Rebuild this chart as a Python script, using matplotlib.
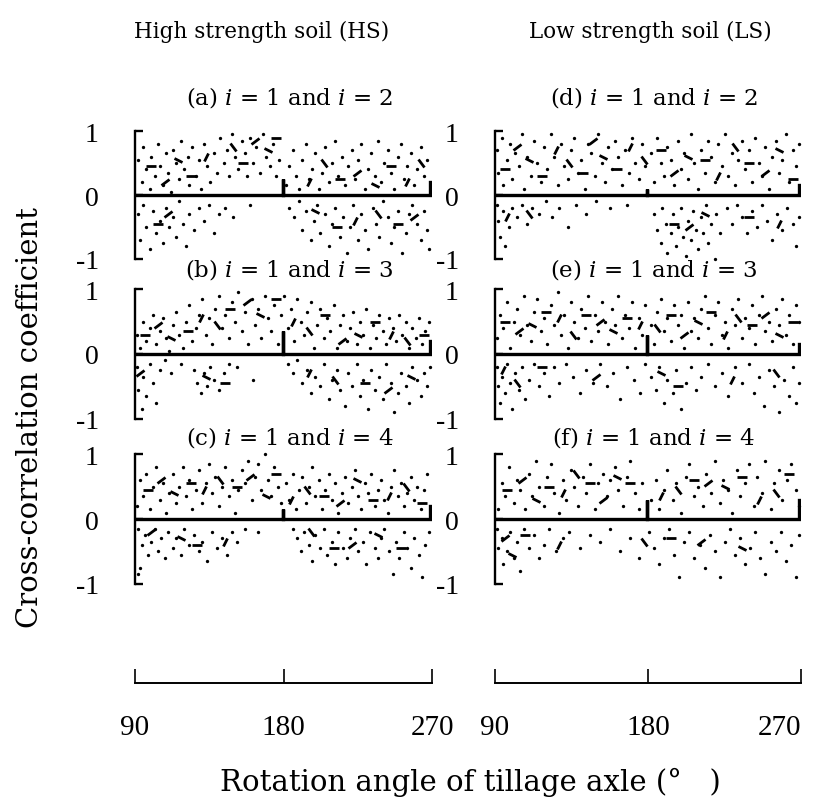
import matplotlib.pyplot as plt
from matplotlib.markers import MarkerStyle
from matplotlib.transforms import Affine2D

plt.rcParams["mathtext.fontset"] = "dejavuserif"
SERIF = "DejaVu Serif"

# Rotation angle knots for the central correlation trace
line_angles = [90, 180, 180, 180, 270, 270]

# ---- (a) HS, i=1 and i=2
a_line = [0.0, 0.0, 0.25, 0.0, 0.0, 0.2]
a_dots = [(92, 0.55), (94, 0.2), (95, 0.75), (97, 0.4), (99, 0.1), (100, 0.6), (102, 0.3), (104, 0.8),
          (105, 0.45), (107, 0.15), (109, 0.65), (110, 0.35), (112, 0.05), (113, 0.7), (115, 0.5),
          (117, 0.25), (118, 0.85), (120, 0.4), (122, 0.6), (123, 0.15), (125, 0.75), (127, 0.3),
          (129, 0.55), (130, 0.1), (132, 0.8), (134, 0.45), (136, 0.2), (138, 0.65), (140, 0.35),
          (142, 0.9), (144, 0.5), (146, 0.7), (147, 0.3), (149, 0.95), (151, 0.6), (153, 0.4),
          (155, 0.85), (157, 0.65), (158, 0.3), (160, 0.9), (162, 0.5), (164, 0.75), (166, 0.35),
          (168, 0.95), (170, 0.6), (172, 0.45), (174, 0.8), (176, 0.3), (178, 0.55), (182, 0.15),
          (184, 0.45), (186, 0.7), (188, 0.3), (190, 0.1), (192, 0.55), (194, 0.8), (196, 0.25),
          (198, 0.4), (200, 0.65), (202, 0.1), (204, 0.35), (206, 0.75), (208, 0.2), (210, 0.5),
          (212, 0.85), (214, 0.3), (216, 0.6), (218, 0.15), (220, 0.45), (222, 0.7), (224, 0.25),
          (226, 0.55), (228, 0.8), (230, 0.1), (232, 0.4), (234, 0.65), (236, 0.3), (238, 0.85),
          (240, 0.2), (242, 0.5), (244, 0.7), (246, 0.35), (248, 0.1), (250, 0.6), (252, 0.8),
          (254, 0.25), (256, 0.45), (258, 0.65), (260, 0.15), (262, 0.4), (264, 0.75), (266, 0.3),
          (268, 0.55),
          (92, -0.3), (93, -0.7), (95, -0.15), (97, -0.5), (99, -0.85), (101, -0.25), (103, -0.6),
          (105, -0.4), (107, -0.75), (109, -0.2), (111, -0.5), (113, -0.35), (115, -0.65),
          (117, -0.1), (119, -0.45), (121, -0.8), (123, -0.3), (126, -0.55), (129, -0.2),
          (132, -0.4), (135, -0.15), (138, -0.6), (141, -0.3), (145, -0.2), (150, -0.35),
          (160, -0.15), (184, -0.2), (187, -0.35), (190, -0.1), (192, -0.55), (194, -0.25),
          (197, -0.7), (199, -0.4), (201, -0.15), (203, -0.6), (206, -0.3), (208, -0.8),
          (210, -0.45), (212, -0.2), (215, -0.65), (217, -0.35), (219, -0.9), (221, -0.5),
          (223, -0.15), (226, -0.7), (228, -0.3), (230, -0.55), (232, -0.85), (235, -0.2),
          (237, -0.45), (239, -0.65), (241, -0.1), (244, -0.35), (246, -0.75), (248, -0.5),
          (250, -0.25), (253, -0.9), (255, -0.6), (257, -0.3), (259, -0.15), (262, -0.45),
          (264, -0.7), (266, -0.25), (268, -0.55), (269, -0.85)]
a_dashes = [(100, 0.45), (108, 0.2), (116, 0.55), (124, 0.3), (133, 0.6), (150, 0.75), (156, 0.5),
            (163, 0.85), (171, 0.7), (176, 0.9), (196, 0.2), (205, 0.5), (215, 0.25), (225, 0.35),
            (236, 0.15), (246, 0.45), (256, 0.2), (264, 0.5), (104, -0.45), (110, -0.3),
            (200, -0.25), (213, -0.5), (224, -0.4), (238, -0.3), (250, -0.45), (260, -0.35)]

# ---- (b) HS, i=1 and i=3
b_line = [0.0, 0.0, 0.35, 0.0, 0.0, 0.2]
b_dots = [(91, 0.3), (93, 0.1), (95, 0.5), (97, 0.2), (99, 0.4), (101, 0.6), (103, 0.15), (105, 0.35),
          (107, 0.55), (109, 0.25), (111, 0.05), (113, 0.45), (115, 0.65), (117, 0.3), (119, 0.1),
          (121, 0.5), (123, 0.75), (125, 0.2), (127, 0.4), (129, 0.6), (131, 0.85), (133, 0.3),
          (135, 0.55), (137, 0.15), (139, 0.7), (141, 0.9), (143, 0.4), (145, 0.6), (147, 0.25),
          (149, 0.8), (151, 0.5), (153, 0.95), (155, 0.35), (157, 0.65), (159, 0.15), (161, 0.85),
          (163, 0.45), (165, 0.7), (167, 0.25), (169, 0.9), (171, 0.55), (173, 0.35), (175, 0.75),
          (177, 0.15), (179, 0.6), (181, 0.9), (183, 0.4), (185, 0.7), (187, 0.2), (189, 0.85),
          (191, 0.5), (193, 0.3), (195, 0.65), (197, 0.8), (199, 0.1), (201, 0.45), (203, 0.7),
          (205, 0.25), (207, 0.55), (209, 0.35), (211, 0.75), (213, 0.1), (215, 0.45), (217, 0.6),
          (219, 0.2), (221, 0.4), (223, 0.65), (225, 0.15), (227, 0.5), (229, 0.3), (231, 0.7),
          (233, 0.1), (235, 0.45), (237, 0.25), (239, 0.6), (241, 0.35), (243, 0.15), (245, 0.55),
          (247, 0.4), (249, 0.2), (251, 0.6), (253, 0.3), (255, 0.5), (257, 0.1), (259, 0.4),
          (261, 0.25), (263, 0.55), (265, 0.15), (267, 0.35), (269, 0.5),
          (91, -0.2), (92, -0.55), (94, -0.85), (95, -0.35), (97, -0.65), (99, -0.15), (101, -0.45),
          (103, -0.75), (105, -0.25), (108, -0.1), (112, -0.3), (118, -0.15), (126, -0.25),
          (128, -0.45), (130, -0.6), (132, -0.3), (134, -0.5), (136, -0.2), (138, -0.4),
          (141, -0.55), (144, -0.3), (147, -0.15), (152, -0.2), (162, -0.4), (183, -0.15),
          (186, -0.3), (189, -0.1), (192, -0.45), (195, -0.25), (197, -0.6), (200, -0.35),
          (203, -0.5), (205, -0.15), (208, -0.7), (210, -0.4), (213, -0.25), (215, -0.55),
          (218, -0.8), (220, -0.3), (222, -0.5), (225, -0.15), (227, -0.65), (229, -0.4),
          (232, -0.85), (234, -0.25), (236, -0.55), (239, -0.35), (241, -0.7), (243, -0.15),
          (246, -0.45), (248, -0.9), (250, -0.6), (252, -0.3), (255, -0.5), (257, -0.75),
          (259, -0.2), (262, -0.4), (264, -0.65), (266, -0.3), (268, -0.5), (270, -0.2)]
b_dashes = [(96, 0.3), (104, 0.45), (112, 0.25), (122, 0.35), (130, 0.55), (140, 0.45), (148, 0.7),
            (158, 0.8), (166, 0.6), (176, 0.85), (186, 0.5), (196, 0.35), (206, 0.6), (216, 0.2),
            (226, 0.3), (236, 0.5), (246, 0.3), (256, 0.2), (266, 0.3), (93, -0.3), (133, -0.35),
            (145, -0.45), (196, -0.3), (212, -0.4), (230, -0.45), (244, -0.55), (258, -0.35)]

# ---- (c) HS, i=1 and i=4
c_line = [0.0, 0.0, 0.15, 0.0, 0.0, 0.2]
c_dots = [(91, 0.2), (93, 0.6), (95, 0.35), (97, 0.7), (99, 0.15), (101, 0.5), (103, 0.8), (105, 0.3),
          (107, 0.55), (109, 0.1), (111, 0.4), (113, 0.7), (115, 0.25), (117, 0.5), (119, 0.8),
          (121, 0.35), (123, 0.6), (125, 0.15), (127, 0.45), (129, 0.75), (131, 0.25), (133, 0.55),
          (135, 0.85), (137, 0.4), (139, 0.65), (141, 0.2), (143, 0.5), (145, 0.8), (147, 0.35),
          (149, 0.6), (151, 0.1), (153, 0.45), (155, 0.75), (157, 0.55), (159, 0.9), (161, 0.3),
          (163, 0.65), (165, 0.85), (167, 0.45), (169, 1.0), (171, 0.6), (173, 0.35), (175, 0.8),
          (177, 0.5), (179, 0.25), (182, 0.55), (184, 0.3), (186, 0.7), (188, 0.15), (190, 0.45),
          (192, 0.65), (194, 0.25), (196, 0.5), (198, 0.8), (200, 0.35), (202, 0.6), (204, 0.15),
          (206, 0.45), (208, 0.7), (210, 0.3), (212, 0.55), (214, 0.1), (216, 0.4), (218, 0.65),
          (220, 0.25), (222, 0.5), (224, 0.75), (226, 0.35), (228, 0.15), (230, 0.55), (232, 0.4),
          (234, 0.7), (236, 0.2), (238, 0.45), (240, 0.6), (242, 0.3), (244, 0.1), (246, 0.5),
          (248, 0.75), (250, 0.35), (252, 0.55), (254, 0.2), (256, 0.4), (258, 0.65), (260, 0.3),
          (262, 0.5), (264, 0.15), (266, 0.45), (268, 0.7),
          (92, -0.15), (94, -0.4), (96, -0.25), (98, -0.55), (100, -0.35), (102, -0.15), (104, -0.5),
          (106, -0.3), (108, -0.6), (110, -0.2), (113, -0.45), (115, -0.3), (118, -0.55),
          (120, -0.15), (123, -0.4), (126, -0.25), (129, -0.5), (131, -0.35), (134, -0.65),
          (137, -0.2), (140, -0.45), (143, -0.3), (146, -0.55), (149, -0.2), (152, -0.35),
          (157, -0.15), (165, -0.2), (93, -0.75), (92, -0.85), (186, -0.15), (189, -0.3),
          (191, -0.5), (193, -0.2), (196, -0.4), (198, -0.65), (200, -0.25), (203, -0.45),
          (205, -0.15), (207, -0.55), (210, -0.35), (212, -0.7), (214, -0.2), (217, -0.45),
          (219, -0.6), (221, -0.3), (224, -0.15), (226, -0.5), (229, -0.35), (231, -0.7),
          (233, -0.2), (236, -0.45), (238, -0.6), (240, -0.3), (242, -0.15), (245, -0.5),
          (247, -0.85), (249, -0.35), (251, -0.6), (254, -0.2), (256, -0.45), (258, -0.75),
          (260, -0.3), (263, -0.55), (265, -0.9), (267, -0.4), (269, -0.2)]
c_dashes = [(98, 0.45), (106, 0.6), (114, 0.4), (124, 0.55), (132, 0.45), (142, 0.6), (152, 0.5),
            (160, 0.65), (170, 0.35), (176, 0.7), (185, 0.3), (195, 0.45), (205, 0.35), (215, 0.25),
            (225, 0.6), (235, 0.3), (245, 0.35), (255, 0.5), (265, 0.25), (100, -0.2), (118, -0.3),
            (128, -0.4), (145, -0.35), (197, -0.2), (211, -0.45), (222, -0.4), (238, -0.25),
            (252, -0.45)]

# ---- (d) LS, i=1 and i=2
d_line = [0.0, 0.0, 0.1, 0.0, 0.0, 0.15]
d_dots = [(91, 0.7), (92, 0.35), (94, 0.9), (95, 0.15), (97, 0.55), (99, 0.8), (100, 0.25), (102, 0.65),
          (104, 0.45), (106, 0.95), (107, 0.1), (109, 0.6), (111, 0.3), (113, 0.85), (115, 0.5),
          (117, 0.2), (119, 0.75), (121, 0.4), (123, 0.95), (125, 0.6), (127, 0.15), (129, 0.8),
          (131, 0.45), (133, 0.25), (135, 0.7), (137, 0.9), (139, 0.35), (141, 0.55), (143, 0.1),
          (145, 0.8), (147, 0.65), (149, 0.3), (151, 0.95), (153, 0.5), (155, 0.2), (157, 0.75),
          (159, 0.4), (161, 0.85), (163, 0.6), (165, 0.15), (167, 0.7), (169, 0.35), (171, 0.9),
          (173, 0.5), (175, 0.25), (177, 0.8), (179, 0.45), (182, 0.65), (184, 0.2), (186, 0.9),
          (188, 0.5), (190, 0.3), (192, 0.75), (194, 0.55), (196, 0.15), (198, 0.85), (200, 0.4),
          (202, 0.65), (204, 0.25), (206, 0.95), (208, 0.5), (210, 0.1), (212, 0.7), (214, 0.35),
          (216, 0.85), (218, 0.6), (220, 0.2), (222, 0.8), (224, 0.45), (226, 0.95), (228, 0.3),
          (230, 0.65), (232, 0.15), (234, 0.55), (236, 0.85), (238, 0.4), (240, 0.7), (242, 0.2),
          (244, 0.9), (246, 0.5), (248, 0.3), (250, 0.75), (252, 0.1), (254, 0.6), (256, 0.85),
          (258, 0.35), (260, 0.55), (262, 0.95), (264, 0.2), (266, 0.7), (268, 0.45), (270, 0.8),
          (91, -0.15), (92, -0.4), (93, -0.65), (95, -0.25), (96, -0.8), (98, -0.5), (100, -0.2),
          (103, -0.35), (106, -0.15), (109, -0.45), (112, -0.2), (116, -0.3), (120, -0.1),
          (124, -0.35), (128, -0.2), (133, -0.5), (138, -0.15), (144, -0.3), (150, -0.1),
          (158, -0.2), (168, -0.15), (184, -0.3), (186, -0.55), (188, -0.75), (189, -0.2),
          (191, -0.45), (192, -0.9), (194, -0.6), (195, -0.3), (197, -0.8), (198, -0.5),
          (200, -0.2), (201, -0.65), (203, -0.95), (204, -0.4), (206, -0.7), (207, -0.25),
          (209, -0.55), (210, -0.85), (212, -0.35), (213, -0.6), (215, -0.15), (216, -0.75),
          (218, -0.45), (220, -1.0), (221, -0.3), (223, -0.6), (227, -0.2), (230, -0.45),
          (233, -0.15), (236, -0.35), (239, -0.6), (242, -0.25), (245, -0.5), (248, -0.15),
          (251, -0.4), (254, -0.7), (257, -0.3), (260, -0.55), (263, -0.2), (266, -0.45),
          (268, -0.8), (270, -0.35)]
d_dashes = [(96, 0.4), (103, 0.75), (110, 0.55), (118, 0.3), (126, 0.7), (134, 0.5), (142, 0.35),
            (148, 0.85), (154, 0.6), (162, 0.4), (170, 0.75), (178, 0.55), (188, 0.7), (196, 0.35),
            (204, 0.6), (214, 0.55), (222, 0.3), (232, 0.75), (240, 0.5), (250, 0.35), (258, 0.7),
            (266, 0.25), (97, -0.35), (110, -0.3), (196, -0.45), (205, -0.5), (214, -0.3),
            (240, -0.35), (258, -0.45)]

# ---- (e) LS, i=1 and i=3
e_line = [0.0, 0.0, 0.3, 0.0, 0.0, 0.15]
e_dots = [(91, 0.25), (93, 0.6), (95, 0.4), (97, 0.8), (99, 0.1), (101, 0.5), (103, 0.7), (105, 0.3),
          (107, 0.9), (109, 0.45), (111, 0.2), (113, 0.65), (115, 0.85), (117, 0.35), (119, 0.55),
          (121, 0.15), (123, 0.75), (125, 0.45), (127, 0.95), (129, 0.3), (131, 0.6), (133, 0.1),
          (135, 0.8), (137, 0.5), (139, 0.25), (141, 0.7), (143, 0.4), (145, 0.9), (147, 0.2),
          (149, 0.6), (151, 0.35), (153, 0.8), (155, 0.5), (157, 0.15), (159, 0.7), (161, 0.45),
          (163, 0.9), (165, 0.25), (167, 0.6), (169, 0.4), (171, 0.8), (173, 0.1), (175, 0.55),
          (177, 0.3), (179, 0.75), (182, 0.45), (184, 0.15), (186, 0.65), (188, 0.85), (190, 0.35),
          (192, 0.55), (194, 0.2), (196, 0.75), (198, 0.45), (200, 0.6), (202, 0.1), (204, 0.8),
          (206, 0.35), (208, 0.55), (210, 0.25), (212, 0.7), (214, 0.9), (216, 0.4), (218, 0.15),
          (220, 0.6), (222, 0.8), (224, 0.3), (226, 0.5), (228, 0.1), (230, 0.7), (232, 0.45),
          (234, 0.85), (236, 0.25), (238, 0.55), (240, 0.4), (242, 0.75), (244, 0.15), (246, 0.6),
          (248, 0.9), (250, 0.35), (252, 0.5), (254, 0.2), (256, 0.7), (258, 0.45), (260, 0.85),
          (262, 0.3), (264, 0.6), (266, 0.15), (268, 0.75), (270, 0.5),
          (91, -0.2), (92, -0.5), (93, -0.75), (94, -0.35), (96, -0.6), (97, -0.15), (99, -0.45),
          (100, -0.85), (102, -0.3), (104, -0.55), (106, -0.2), (108, -0.7), (110, -0.4),
          (113, -0.15), (116, -0.5), (119, -0.3), (122, -0.65), (125, -0.2), (128, -0.45),
          (132, -0.15), (136, -0.35), (140, -0.6), (144, -0.25), (148, -0.45), (152, -0.15),
          (156, -0.5), (160, -0.3), (164, -0.7), (168, -0.2), (172, -0.4), (176, -0.6),
          (179, -0.15), (182, -0.35), (185, -0.55), (187, -0.2), (190, -0.75), (192, -0.4),
          (195, -0.6), (197, -0.25), (200, -0.85), (203, -0.45), (206, -0.2), (209, -0.55),
          (212, -0.35), (216, -0.15), (220, -0.5), (224, -0.3), (228, -0.65), (232, -0.2),
          (236, -0.45), (240, -0.15), (243, -0.6), (246, -0.35), (249, -0.8), (252, -0.25),
          (255, -0.5), (258, -0.9), (261, -0.4), (264, -0.65), (266, -0.2), (268, -0.75),
          (270, -0.45)]
e_dashes = [(96, 0.5), (104, 0.35), (112, 0.45), (120, 0.65), (128, 0.55), (136, 0.3), (144, 0.6),
            (152, 0.5), (160, 0.35), (168, 0.55), (176, 0.45), (186, 0.4), (194, 0.6), (202, 0.3),
            (210, 0.5), (218, 0.65), (226, 0.3), (234, 0.55), (242, 0.45), (250, 0.6), (258, 0.3),
            (266, 0.5), (95, -0.25), (103, -0.45), (118, -0.2), (150, -0.35), (188, -0.3),
            (198, -0.5), (230, -0.4), (256, -0.3)]

# ---- (f) LS, i=1 and i=4
f_line = [0.0, 0.0, 0.3, 0.0, 0.0, 0.3]
f_dots = [(92, 0.15), (94, 0.55), (96, 0.35), (98, 0.8), (101, 0.25), (103, 0.6), (105, 0.45), (108, 0.15),
          (110, 0.7), (112, 0.35), (114, 0.9), (116, 0.5), (119, 0.2), (121, 0.65), (123, 0.85),
          (125, 0.4), (128, 0.1), (130, 0.6), (132, 0.3), (135, 0.75), (137, 0.5), (139, 0.2),
          (142, 0.65), (144, 0.4), (146, 0.85), (149, 0.15), (151, 0.55), (154, 0.7), (156, 0.35),
          (158, 0.6), (161, 0.8), (163, 0.45), (166, 0.2), (168, 0.65), (170, 0.9), (173, 0.4),
          (175, 0.15), (177, 0.55), (182, 0.3), (185, 0.6), (187, 0.15), (190, 0.45), (192, 0.75),
          (195, 0.3), (197, 0.55), (200, 0.1), (203, 0.65), (205, 0.85), (208, 0.35), (210, 0.5),
          (213, 0.2), (215, 0.7), (218, 0.4), (220, 0.9), (223, 0.25), (225, 0.6), (228, 0.45),
          (230, 0.1), (233, 0.75), (235, 0.35), (238, 0.55), (240, 0.85), (243, 0.2), (245, 0.65),
          (248, 0.4), (250, 0.9), (253, 0.15), (255, 0.55), (258, 0.75), (260, 0.3), (263, 0.6),
          (265, 0.85), (268, 0.45), (270, 0.2),
          (91, -0.15), (92, -0.45), (94, -0.3), (95, -0.7), (97, -0.5), (99, -0.2), (101, -0.6),
          (103, -0.35), (105, -0.8), (107, -0.15), (110, -0.45), (113, -0.25), (116, -0.6),
          (119, -0.4), (122, -0.15), (126, -0.5), (130, -0.3), (134, -0.2), (140, -0.45),
          (146, -0.25), (152, -0.35), (158, -0.15), (164, -0.5), (170, -0.3), (175, -0.6),
          (181, -0.2), (184, -0.45), (187, -0.7), (190, -0.3), (193, -0.15), (196, -0.55),
          (199, -0.9), (202, -0.35), (205, -0.2), (208, -0.6), (211, -0.4), (214, -0.75),
          (217, -0.25), (220, -0.5), (223, -0.9), (226, -0.35), (229, -0.15), (232, -0.55),
          (235, -0.3), (238, -0.7), (241, -0.45), (244, -0.2), (247, -0.6), (250, -0.85),
          (253, -0.35), (256, -0.5), (259, -0.2), (262, -0.65), (265, -0.4), (268, -0.9),
          (270, -0.25)]
f_dashes = [(97, 0.45), (106, 0.6), (114, 0.3), (122, 0.5), (130, 0.4), (138, 0.7), (146, 0.55),
            (154, 0.3), (162, 0.65), (170, 0.55), (188, 0.35), (198, 0.45), (208, 0.6), (216, 0.55),
            (226, 0.5), (236, 0.65), (246, 0.3), (256, 0.4), (264, 0.7), (96, -0.3), (100, -0.55),
            (108, -0.25), (128, -0.4), (178, -0.35), (194, -0.3), (212, -0.35), (236, -0.45)]

panel_titles = ["(a) $i$ = 1 and $i$ = 2", "(b) $i$ = 1 and $i$ = 3", "(c) $i$ = 1 and $i$ = 4",
                "(d) $i$ = 1 and $i$ = 2", "(e) $i$ = 1 and $i$ = 3", "(f) $i$ = 1 and $i$ = 4"]
column_titles = ["High strength soil (HS)", "Low strength soil (LS)"]
x_ticks = [90, 180, 270]
y_ticks = [-1, 0, 1]

panels = [(a_line, a_dots, a_dashes), (b_line, b_dots, b_dashes), (c_line, c_dots, c_dashes),
          (d_line, d_dots, d_dashes), (e_line, e_dots, e_dashes), (f_line, f_dots, f_dashes)]

W, H = 819, 803
fig = plt.figure(figsize=(W / 100, H / 100), dpi=100)

col_x = [(135, 432), (495, 801)]
row_y = [(127, 265), (285, 425), (450, 590)]
title_y = [98, 270, 438]
header_x = [262, 650]
dash_turns = [0, 35, -30, 0, 60, -50]


def px_box(x0, x1, y0, y1):
    return [x0 / W, 1 - y1 / H, (x1 - x0) / W, (y1 - y0) / H]


for k, (line_vals, dots, dashes) in enumerate(panels):
    col, row = divmod(k, 3)
    x0, x1 = col_x[col]
    y0, y1 = row_y[row]
    ax = fig.add_axes(px_box(x0, x1, y0, y1))
    ax.set_xlim(90, 271)
    ax.set_ylim(-1.08, 1.08)

    ax.plot(line_angles, line_vals, color="black", lw=2.4, solid_joinstyle="miter")
    ax.plot([p[0] for p in dots], [p[1] for p in dots], "o", ms=2.4, color="black", mew=0)
    for j, (ang, val) in enumerate(dashes):
        m = MarkerStyle("_", transform=Affine2D().rotate_deg(dash_turns[j % len(dash_turns)]))
        ax.plot(ang, val, marker=m, ms=7, mew=2.0, color="black", ls="none")

    for s in ["top", "right", "bottom"]:
        ax.spines[s].set_visible(False)
    ax.spines["left"].set_bounds(-1, 1)
    ax.spines["left"].set_linewidth(1.7)
    ax.set_xticks([])
    ax.set_yticks(y_ticks)
    ax.set_yticklabels(["-1", "0", "1"], family="Liberation Serif", fontsize=20)
    ax.tick_params(axis="y", direction="in", length=6, width=1.7, pad=26)
    fig.text(((x0 + x1) / 2 + 6) / W, 1 - title_y[row] / H, panel_titles[k], family=SERIF,
             fontsize=16.5, ha="center", va="center")

# bottom angle axes
for col in range(2):
    x0, x1 = col_x[col]
    bx = fig.add_axes(px_box(x0, x1, 600, 684))
    bx.set_xlim(90, 270)
    bx.set_ylim(0, 1)
    for s in ["top", "right", "left"]:
        bx.spines[s].set_visible(False)
    bx.spines["bottom"].set_linewidth(1.4)
    bx.set_yticks([])
    bx.set_xticks(x_ticks)
    bx.set_xticklabels([str(t) for t in x_ticks], family="Liberation Serif", fontsize=21)
    bx.tick_params(axis="x", direction="in", length=10, width=1.2, pad=22)
    bx.patch.set_alpha(0)
    if col == 1:
        bx.get_xticklabels()[-1].set_horizontalalignment("right")
        bx.get_xticklabels()[-1].set_x(271)

for col in range(2):
    fig.text(header_x[col] / W, 1 - 32 / H, column_titles[col], family=SERIF, fontsize=15.5,
             ha="center", va="center")

fig.text(30 / W, 1 - 418 / H, "Cross-correlation coefficient", family=SERIF, fontsize=21,
         rotation=90, ha="center", va="center")
fig.text(470 / W, 1 - 782 / H, "Rotation angle of tillage axle (°   )", family=SERIF,
         fontsize=21, ha="center", va="center")

fig.savefig("out.png", dpi=100, facecolor="white")
